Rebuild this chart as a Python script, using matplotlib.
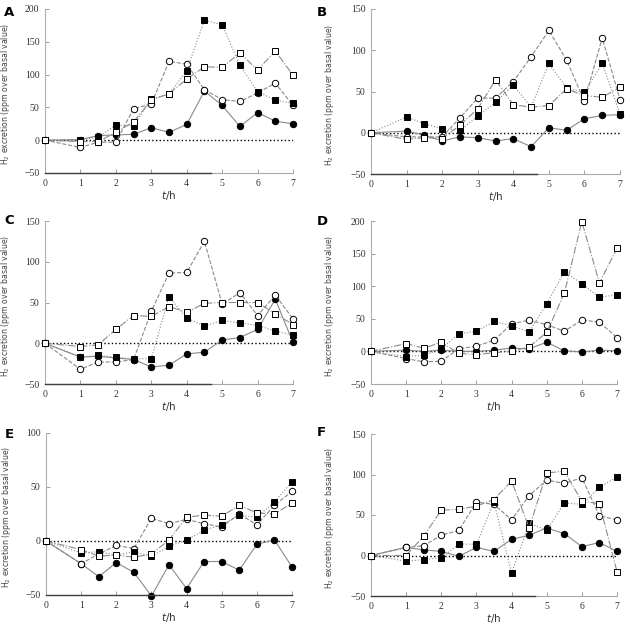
import numpy as np
import matplotlib
matplotlib.use('Agg')
import matplotlib.pyplot as plt

hours = [0, 1, 1.5, 2, 2.5, 3, 3.5, 4, 4.5, 5, 5.5, 6, 6.5, 7]

# panel A
a_fcirc = [0, 1, 7, 8, 9, 19, 12, 24, 75, 53, 21, 42, 29, 25]
a_ocirc = [0, -11, -3, -3, 48, 55, 120, 116, 77, 62, 59, 72, 87, 53]
a_fsq = [0, 0, 5, 23, 22, 63, 70, 106, 183, 176, 114, 74, 61, 56]
a_osq = [0, -2, -2, 12, 28, 61, 71, 93, 112, 111, 133, 107, 136, 99]
# panel B
b_fcirc = [0, 2, -3, -10, -5, -6, -10, -7, -17, 6, 3, 17, 21, 22]
b_ocirc = [0, -5, -5, -5, 18, 42, 42, 62, 92, 124, 88, 38, 115, 40]
b_fsq = [0, 19, 11, 5, 3, 20, 37, 58, 31, 84, 54, 49, 84, 23]
b_osq = [0, -8, -6, -7, 9, 29, 64, 34, 31, 33, 53, 45, 43, 55]
# panel C
c_fcirc = [0, -17, -16, -18, -20, -29, -27, -13, -11, 4, 7, 17, 54, 1]
c_ocirc = [0, -32, -23, -23, -20, 39, 86, 87, 125, 48, 62, 34, 59, 30]
c_fsq = [0, -17, -15, -17, -19, -19, 57, 31, 21, 28, 25, 22, 15, 10]
c_osq = [0, -4, -2, 17, 34, 33, 45, 38, 49, 50, 50, 50, 36, 23]
# panel D
d_fcirc = [0, 2, 0, 2, 0, 0, 2, 5, 4, 14, 1, -1, 2, 1]
d_ocirc = [0, -11, -16, -15, 4, 8, 17, 42, 48, 41, 31, 48, 45, 21]
d_fsq = [0, -8, -6, 4, 27, 31, 46, 39, 30, 73, 122, 104, 83, 87]
d_osq = [0, 12, 5, 14, -3, -5, -2, 0, 7, 29, 89, 199, 105, 158]
# panel E
e_fcirc = [0, -21, -33, -20, -29, -51, -22, -44, -19, -19, -27, -3, 1, -24]
e_ocirc = [0, -21, -12, -4, -7, 21, 16, 20, 16, 13, 25, 15, 33, 46]
e_fsq = [0, -11, -10, -13, -10, -14, -5, 1, 10, 15, 24, 22, 36, 55]
e_osq = [0, -8, -14, -13, -15, -12, 1, 22, 24, 23, 33, 26, 25, 35]
# panel F
f_fcirc = [0, 10, 7, 5, -1, 10, 5, 20, 25, 34, 27, 11, 16, 5]
f_ocirc = [0, 10, 12, 25, 31, 66, 63, 44, 74, 93, 89, 96, 49, 44]
f_fsq = [0, -7, -5, -3, 14, 14, 66, -22, 40, 31, 65, 63, 84, 97]
f_osq = [0, 0, 24, 56, 57, 61, 69, 92, 34, 102, 104, 67, 64, -20]

# letter, series, ylim, box (left, right, top, bottom px), dark bottom end, letter pos
panels = [
    ('A', [a_fcirc, a_ocirc, a_fsq, a_osq], (-50, 200), (45, 293, 9, 173), 4.68, (4, 12)),
    ('B', [b_fcirc, b_ocirc, b_fsq, b_osq], (-50, 150), (371, 620, 9, 174), 4.68, (317, 12)),
    ('C', [c_fcirc, c_ocirc, c_fsq, c_osq], (-50, 150), (45, 293, 221, 384), 4.68, (4, 220)),
    ('D', [d_fcirc, d_ocirc, d_fsq, d_osq], (-50, 200), (371, 617, 221, 384), 0, (317, 221)),
    ('E', [e_fcirc, e_ocirc, e_fsq, e_osq], (-50, 100), (46, 292, 433, 595), 7, (5, 435)),
    ('F', [f_fcirc, f_ocirc, f_fsq, f_osq], (-50, 150), (371, 617, 434, 596), 4.68, (317, 433)),
]

styles = [
    dict(marker='o', mfc='black', ls='-'),
    dict(marker='o', mfc='white', ls='--'),
    dict(marker='s', mfc='black', ls=':'),
    dict(marker='s', mfc='white', ls='-.'),
]

W, H = 630, 624
fig = plt.figure(figsize=(6.3, 6.24), dpi=100)

for letter, series, ylim, box, dark, lpos in panels:
    l, r, t, b = box
    ax = fig.add_axes([l / W, 1 - b / H, (r - l) / W, (b - t) / H])
    ax.axhline(0, color='black', ls=':', lw=1.0, zorder=1)
    for vals, st in zip(series, styles):
        ax.plot(hours, vals, color='#8a8a8a', lw=0.8, ls=st['ls'],
                marker=st['marker'], mfc=st['mfc'], mec='black', mew=0.7,
                ms=4.6, clip_on=False, zorder=3)
    ax.set_xlim(0, 7)
    ax.set_ylim(*ylim)
    ax.set_xticks(range(8))
    ax.set_yticks(np.arange(ylim[0], ylim[1] + 1, 50))
    for s in ['top', 'right']:
        ax.spines[s].set_visible(False)
    ax.spines['left'].set_color('#b0b0b0')
    ax.spines['bottom'].set_color('#a8a8a8')
    ax.spines['left'].set_linewidth(0.8)
    ax.spines['bottom'].set_linewidth(0.8)
    if dark > 0:
        ax.plot([0, dark], [ylim[0], ylim[0]], color='#404040', lw=1.0,
                clip_on=False, zorder=5)
    ax.tick_params(direction='in', length=3, width=0.6, color='#909090',
                   labelcolor='#333333', pad=4)
    for lab in ax.get_yticklabels() + ax.get_xticklabels():
        lab.set_fontfamily('Liberation Serif')
        lab.set_fontsize(7)
    ax.set_xlabel('$\\it{t}$/h', fontsize=7.5, color='#333333', labelpad=1,
                  family='DejaVu Sans')
    ax.set_ylabel('H$_2$ excretion (ppm over basal value)', fontsize=5.6,
                  color='#444444', family='DejaVu Sans')
    off = 33 if l < 100 else 35
    ax.yaxis.set_label_coords(-off / (r - l), 0.48)
    fig.text(lpos[0] / W, 1 - lpos[1] / H, letter, fontsize=9.5,
             fontweight='bold', family='DejaVu Sans', va='center', ha='left')

fig.savefig('out.png', dpi=100)
